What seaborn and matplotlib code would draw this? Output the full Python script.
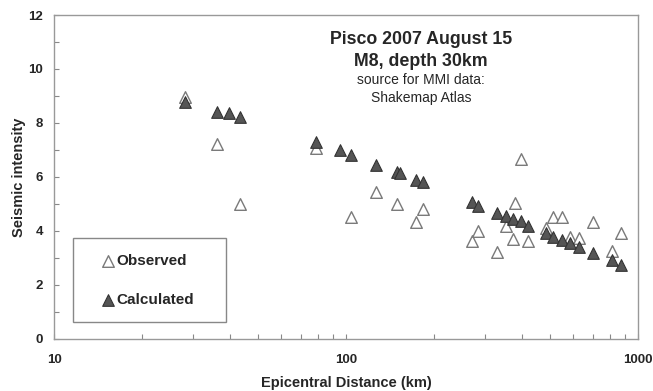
import pandas as pd
import matplotlib
matplotlib.use("Agg")
import matplotlib.pyplot as plt
import seaborn as sns
from matplotlib.ticker import MultipleLocator

# -----------------------------
# Data
# -----------------------------

obs_dist = [28.1, 36.1, 43.2, 79, 104, 127, 149, 174, 183, 271, 284, 328, 353,
            372, 379, 399, 421, 486, 513, 551, 585, 629, 700, 813, 873]
obs_mmi = [8.95, 7.2, 5.0, 7.05, 4.5, 5.42, 5.0, 4.31, 4.81, 3.6, 4.0, 3.2, 4.16,
           3.69, 5.02, 6.67, 3.6, 4.1, 4.49, 4.49, 3.75, 3.72, 4.31, 3.23, 3.91]

calc_dist = [28.1, 36.1, 39.7, 43.2, 79, 95.4, 104, 127, 149, 153, 174, 183,
             271, 283, 328, 353, 372, 397, 421, 484, 513, 551, 585, 629, 700, 813, 873]
calc_mmi = [8.76, 8.42, 8.36, 8.23, 7.3, 7.0, 6.81, 6.44, 6.16, 6.14, 5.89, 5.79,
            5.05, 4.93, 4.65, 4.53, 4.43, 4.35, 4.16, 3.91, 3.77, 3.67, 3.54, 3.38,
            3.17, 2.93, 2.74]

observed = pd.DataFrame({"dist": obs_dist, "mmi": obs_mmi})
calculated = pd.DataFrame({"dist": calc_dist, "mmi": calc_mmi})

# -----------------------------
# Plot
# -----------------------------

sns.set_style("white")
plt.rcParams["font.family"] = ["Liberation Sans", "DejaVu Sans"]
plt.rcParams["font.weight"] = "bold"

fig = plt.figure(figsize=(6.53, 3.91), dpi=100)
ax = fig.add_axes([54 / 653, 1 - 338.5 / 391, 584 / 653, 323.5 / 391])

sns.scatterplot(
    data=observed, x="dist", y="mmi", ax=ax,
    marker="^", s=70, color="white", edgecolor="#7a7a7a",
    linewidth=1.0, label="Observed", zorder=2
)
sns.scatterplot(
    data=calculated, x="dist", y="mmi", ax=ax,
    marker="^", s=70, color="#555555", edgecolor="#333333",
    linewidth=0.8, label="Calculated", zorder=3
)

ax.set_xscale("log")
ax.set_xlim(10, 1000)
ax.set_ylim(0, 12)
ax.yaxis.set_major_locator(MultipleLocator(2))
ax.yaxis.set_minor_locator(MultipleLocator(1))
ax.set_xticks([10, 100, 1000])
ax.set_xticklabels(["10", "100", "1000"])

ax.tick_params(axis="both", which="both", direction="in", length=3.6,
               width=0.8, color="#888888", labelsize=9.5)
ax.tick_params(axis="y", which="both", left=True, pad=8)
ax.tick_params(axis="x", which="both", bottom=True, pad=11)

for sp in ax.spines.values():
    sp.set_color("#999999")
    sp.set_linewidth(1.0)

ax.set_xlabel("")
ax.set_ylabel("")
fig.text(346 / 653, 1 - 382.5 / 391, "Epicentral Distance (km)",
         ha="center", va="center", fontsize=10.5, fontweight="bold")
fig.text(19 / 653, 1 - 177 / 391, "Seismic intensity", rotation=90,
         ha="center", va="center", fontsize=10.5, fontweight="bold")

tx = 421 / 653
fig.text(tx, 1 - 39 / 391, "Pisco 2007 August 15", ha="center", va="center",
         fontsize=12.8, fontweight="bold")
fig.text(tx, 1 - 61 / 391, "M8, depth 30km", ha="center", va="center",
         fontsize=12.8, fontweight="bold")
fig.text(tx, 1 - 80 / 391, "source for MMI data:", ha="center", va="center",
         fontsize=10, fontweight="normal")
fig.text(tx, 1 - 98 / 391, "Shakemap Atlas", ha="center", va="center",
         fontsize=10, fontweight="normal")

leg = ax.legend(
    loc="lower left", bbox_to_anchor=(19 / 584, 16.5 / 323.5, 153 / 584, 84 / 323.5),
    mode="expand", fancybox=False, framealpha=1, edgecolor="#888888",
    prop={"size": 11, "weight": "bold"}, borderpad=1.0, labelspacing=1.65,
    handlelength=2.57, handletextpad=-0.7, borderaxespad=0
)
leg.get_frame().set_linewidth(1.0)

plt.savefig("out.png", dpi=100)
plt.close()

print("Saved out.png")
